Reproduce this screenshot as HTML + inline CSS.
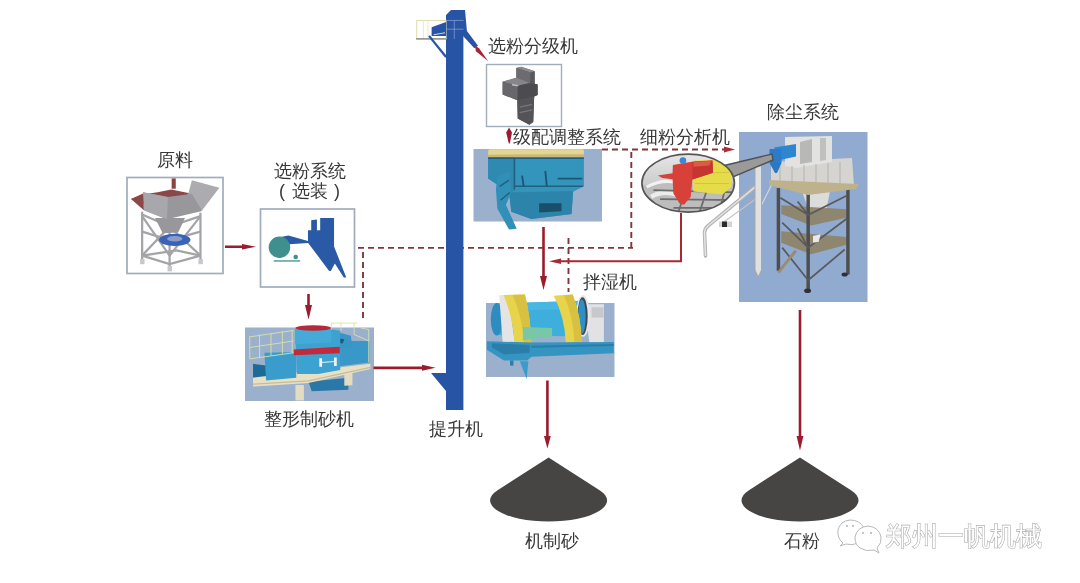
<!DOCTYPE html>
<html><head><meta charset="utf-8">
<style>
html,body{margin:0;padding:0;background:#fff;width:1080px;height:583px;overflow:hidden}
svg{display:block;will-change:transform}
text{font-family:"Liberation Sans",sans-serif;fill:#383838;font-size:18px}
</style></head><body>
<svg width="1080" height="583" viewBox="0 0 1080 583">
<defs>
<marker id="ah" markerWidth="8" markerHeight="6" refX="7" refY="3" orient="auto" markerUnits="userSpaceOnUse">
<path d="M0,0 L8,3 L0,6 z" fill="#9b1c2c"/></marker>
</defs>

<!-- dashed -->
<g fill="none" stroke="#80363f" stroke-width="1.9" stroke-dasharray="6,4">
<path d="M358,247.9 L633,247.9"/>
<path d="M602,149.5 L726,149.5"/>
<path d="M631.3,152 L631.3,248"/>
<path d="M363,252 L363,319"/>
<path d="M568.5,238 L568.5,292"/>
</g>
<!-- boxes -->
<rect x="127" y="177.5" width="96" height="96" fill="#fff" stroke="#a2acbc" stroke-width="1.7"/>
<rect x="260.5" y="209" width="94" height="78" fill="#fff" stroke="#a2acbc" stroke-width="1.7"/>
<rect x="486.5" y="64.5" width="75" height="62" fill="#fff" stroke="#a2acbc" stroke-width="1.4"/>
<rect x="473.5" y="149" width="128.5" height="72.5" fill="#9ab0cc"/>
<rect x="739" y="132" width="128.5" height="170" fill="#90aad0"/>
<rect x="245" y="327.5" width="129" height="73.5" fill="#9ab0cc"/>
<rect x="486" y="303" width="128.5" height="74" fill="#9ab0cc"/>


<!-- hopper (原料) -->
<g transform="translate(125,175) scale(0.1715)">
<g stroke="#a4a4a8" stroke-width="13" fill="none">
<path d="M100,215 L100,500 M260,260 L260,540 M440,220 L440,500"/>
<path d="M100,470 L260,520 L440,470 L300,440 z"/>
<path d="M100,230 L260,300 L440,240 M100,330 L260,380 L440,330"/>
<path d="M100,240 L260,470 M260,300 L100,470 M260,300 L440,470 M440,240 L260,470"/>
</g>
<g fill="#c8c8cc"><rect x="88" y="490" width="26" height="30"/><rect x="248" y="530" width="26" height="32"/><rect x="428" y="490" width="26" height="30"/></g>
<ellipse cx="290" cy="378" rx="92" ry="36" fill="#3a62b8"/>
<ellipse cx="290" cy="372" rx="45" ry="16" fill="#8a9cc8"/>
<path d="M175,250 L350,250 L310,335 L220,340 z" fill="#98989c"/>
<path d="M35,140 L110,112 L190,100 L270,85 L390,110 L300,130 L240,160 L100,168 z" fill="#8a4848"/>
<path d="M390,30 L550,75 L450,205 L355,160 z" fill="#acacb0"/>
<path d="M105,100 L250,128 L390,110 L450,210 L245,258 L110,205 z" fill="#98989c"/>
<path d="M105,100 L250,128 L245,258 L110,205 z" fill="#a8a8ac"/>
<path d="M35,140 L105,108 L110,205 z" fill="#8a4848"/>
<rect x="272" y="20" width="24" height="60" fill="#8a4444"/>
</g>


<!-- 选粉系统 icon -->
<g transform="translate(255,200) scale(0.16297)">

<circle cx="250" cy="350" r="14" fill="#3f8f8f"/>
<rect x="115" y="370" width="162" height="8" fill="#3f8f8f"/>
<path d="M150,228 L205,218 L325,252 L325,264 L212,272 L205,290 z" fill="#2a5aa5"/>
<circle cx="150" cy="290" r="66" fill="#3f8f8f"/>
<path d="M325,185 L345,185 L345,125 L380,120 L380,185 L400,185 L400,110 L485,110 L485,285 L560,475 L545,475 L490,390 L465,435 L455,435 L325,262 z" fill="#2a5aa5"/>
</g>


<!-- 选粉分级机 icon -->
<g transform="translate(480,55) scale(0.13719)">
<path d="M265,95 L300,85 L400,118 L400,210 L420,215 L420,292 L395,302 L388,488 L360,508 L275,462 L272,330 L165,288 L165,195 L265,165 z" fill="#5a5a5e"/>
<path d="M265,95 L300,85 L400,118 L365,128 z" fill="#8a8a8e"/>
<path d="M265,95 L365,128 L365,210 L265,170 z" fill="#6c6c70"/>
<path d="M165,195 L265,165 L365,205 L275,225 z" fill="#86868a"/>
<path d="M165,195 L275,225 L272,330 L165,288 z" fill="#68686c"/>
<path d="M235,210 L290,220 L285,232 L232,222 z" fill="#b8b8bc"/>
<path d="M275,225 L365,205 L420,215 L420,292 L395,302 L275,330 z" fill="#4c4c50"/>
<path d="M272,330 L395,302 L388,488 L360,508 L275,462 z" fill="#545458"/>
<path d="M290,380 L380,360 M290,420 L380,400" stroke="#77777b" stroke-width="8"/>
</g>


<!-- 级配调整系统 icon -->
<g transform="translate(465,140) scale(0.15442)">
<path d="M150,112 L770,112 L770,300 L700,335 L690,480 L430,512 L300,465 L285,340 L150,250 z" fill="#3394bc"/>
<path d="M150,112 L320,112 L320,330 L285,340 L150,250 z" fill="#2f8ab2"/>
<path d="M285,340 L700,330 L690,480 L430,512 L300,465 z" fill="#2c84aa"/>
<path d="M320,120 L320,320 M320,300 L765,300 M150,118 L770,118" stroke="#20607e" stroke-width="10" fill="none"/>
<path d="M370,230 L380,300 M520,200 L530,300 M600,250 L760,250" stroke="#1d5674" stroke-width="12" fill="none"/>
<path d="M480,410 L625,410 L625,462 L480,470 z" fill="#1a4f6a"/>
<path d="M210,240 L290,200 L300,340 L265,420 L335,575 L285,580 L210,445 L200,320 z" fill="#3190b8"/>
<path d="M225,300 L285,260 M230,390 L290,340" stroke="#235f80" stroke-width="10"/>
<path d="M150,70 Q150,60 165,60 L760,60 Q770,60 770,70 L770,105 L150,108 z" fill="#e4d592"/>
<path d="M150,95 L770,92 L770,108 L150,110 z" fill="#c8b878"/>
</g>


<!-- 整形制砂机 icon -->
<g transform="translate(240,310) scale(0.163)">
<path d="M80,330 L160,340 L160,425 L80,415 z" fill="#1e6a96"/>
<path d="M420,440 L665,415 L665,490 L440,498 z" fill="#2a78a8"/>
<path d="M340,460 L392,460 L392,555 L340,555 z" fill="#e4dcc0"/>
<path d="M640,385 L690,380 L690,462 L640,465 z" fill="#e4dcc0"/>
<path d="M80,415 L800,330 L800,362 L420,448 L80,470 z" fill="#e8e0c4"/>
<path d="M80,455 L420,435 L800,352" stroke="#c8bc98" stroke-width="8" fill="none"/>
<path d="M150,262 L345,258 L345,415 L160,432 z" fill="#3a9ccc"/>
<path d="M610,190 L795,190 L795,322 L610,345 z" fill="#3a98c8"/>
<path d="M540,120 L680,158 L690,235 L560,225 z" fill="#3a94c4"/>
<path d="M572,168 L640,180 L630,205 L580,196 z" fill="#1e5a80"/>
<path d="M338,118 Q450,92 560,118 L615,128 L615,368 L480,392 L350,392 z" fill="#3ca2d2"/>
<path d="M338,118 Q450,92 560,118 L560,200 L338,210 z" fill="#46aad8"/>
<ellipse cx="450" cy="110" rx="110" ry="17" fill="#b82838"/>
<path d="M330,242 L612,225 L612,265 L330,278 z" fill="#c02a3c"/>
<path d="M490,300 L500,300 L500,345 L490,345 z M580,295 L590,295 L590,340 L580,340 z M495,322 L585,316" stroke="#f0f0f0" stroke-width="7" fill="#f0f0f0"/>
<g stroke="#d8e4a8" stroke-width="6" fill="none" opacity="0.9">
<path d="M60,160 L60,300 M120,150 L120,290 M190,140 L190,280 M260,130 L260,270 M320,125 L320,265"/>
<path d="M60,165 L330,125 M60,230 L330,190 M60,300 L330,262"/>
<path d="M560,80 L720,80 M560,75 L560,120 M620,75 L620,130 M700,78 L700,150 M740,110 L790,120 L790,320 M700,150 L790,190"/>
</g>
</g>


<!-- 拌湿机 icon -->
<g transform="translate(480,285) scale(0.17153)">
<path d="M610,112 L722,112 L722,352 L640,352 z" fill="#e2e2e4"/>
<path d="M650,130 L720,130 L720,190 L650,190 z" fill="#c8c8cc"/>
<path d="M95,108 L600,92 L600,300 L95,292 z" fill="#3eaedc"/>
<path d="M95,108 L600,92 L600,140 L95,150 z" fill="#4ab6e2"/>
<ellipse cx="98" cy="200" rx="35" ry="95" fill="#2e8cc0"/>
<ellipse cx="600" cy="180" rx="40" ry="122" fill="#e8e8ea"/><ellipse cx="598" cy="182" rx="30" ry="110" fill="#404850"/>
<ellipse cx="594" cy="184" rx="22" ry="100" fill="#2e90c4"/>
<path d="M112,60 L165,58 L210,385 L135,375 z" fill="#e4e4e6"/>
<path d="M138,58 L262,55 Q300,200 300,392 L205,392 Q200,210 138,58 z" fill="#e8d44a"/>
<path d="M190,58 L262,55 Q300,200 300,392 L260,392 Q255,200 190,58 z" fill="#d8c040"/>
<path d="M430,62 L540,55 Q590,180 592,332 L500,335 Q495,190 430,62 z" fill="#e8d44a"/>
<path d="M490,60 L540,55 Q590,180 592,332 L550,333 Q545,190 490,60 z" fill="#d8c040"/>
<path d="M250,245 L420,250 L420,300 L250,322 z" fill="#78c8a8"/>
<path d="M40,328 L300,335 L780,332 L780,398 L300,418 L275,440 L140,440 L40,378 z" fill="#3494c2"/>
<path d="M70,340 L290,350 L290,395 L140,405 L70,365 z" fill="#2a7ea8"/>
<path d="M300,360 L780,350" stroke="#2a7ea8" stroke-width="12"/>
<path d="M232,445 L282,445 L272,548 z" fill="#3a9cc8"/>
<rect x="175" y="440" width="20" height="30" fill="#2a7ea8"/>
</g>

<!-- elevator -->
<path d="M446,15 L451,10 L465,10 L467,32 L463.4,36 L463.4,410 L446,410 L446,391 L431,373 L446,373 z" fill="#2854a6"/>
<g transform="translate(410,5) scale(0.10299)">
<rect x="65" y="150" width="285" height="180" fill="none" stroke="#e0dcb0" stroke-width="10"/>
<path d="M130,150 L130,330 M175,150 L175,330" stroke="#e8e4c0" stroke-width="8"/>
<rect x="60" y="322" width="290" height="14" fill="#8a8a80"/>
<path d="M185,300 L350,505" stroke="#2854a6" stroke-width="22"/>
<path d="M210,300 L210,215 L350,165 L350,300 z" fill="#2854a6"/>
<path d="M230,290 L340,270" stroke="#c8d4ea" stroke-width="10"/>
<path d="M350,150 L520,150 M430,150 L430,330 M350,235 L520,235" stroke="#9ab0d8" stroke-width="6"/>
<path d="M515,250 L555,255 L660,395 L625,420 L515,300 z" fill="#2854a6"/>
<path d="M630,390 L670,420 L760,545 L640,450 z" fill="#b02030"/>
</g>


<!-- 除尘系统 tower -->
<g>
<path d="M705.5,256 L704.5,232 Q705,228 709,225 L755,187" stroke="#b4b4b4" stroke-width="3.6" fill="none" stroke-linecap="round"/>
<path d="M705.5,256 L704.5,232 Q705,228 709,225 L755,187" stroke="#e4e4e4" stroke-width="1.5" fill="none"/>
<path d="M721,224 L757,198" stroke="#c4c4c4" stroke-width="1.2"/>
<path d="M757,214 L777,174" stroke="#d8d8d8" stroke-width="1.2"/>
<rect x="719" y="221.5" width="13" height="5.5" fill="#d4d4d4"/><rect x="722" y="221.5" width="5" height="5.5" fill="#2a2a2a"/>
<path d="M755,166 L761.5,166 L761.5,270 L758.2,277 L755,270 z" fill="#e0e0e0" stroke="#a8a8a8" stroke-width="1"/>
<g transform="translate(740,190) scale(0.19203)">
<path d="M320,0 L470,0 L450,100 L360,110 z" fill="#dcdcda"/>
<path d="M215,80 L555,100 L555,145 L370,185 L215,125 z" fill="#8e8264" opacity="0.9"/>
<path d="M215,215 L555,245 L555,285 L370,335 L215,275 z" fill="#8e8264" opacity="0.9"/>
<path d="M200,-10 L200,420 M355,0 L355,525 M562,-10 L562,440" stroke="#4e4e50" stroke-width="18"/>
<path d="M210,40 L355,130 L555,30 M220,170 L355,300 L555,150 M220,300 L355,470 L545,310 M355,130 L300,60 M355,300 L300,200 M205,420 L290,320" stroke="#5a5a5c" stroke-width="9" fill="none"/>
<path d="M200,430 L290,315" stroke="#9a8e6a" stroke-width="14"/>
<ellipse cx="352" cy="525" rx="18" ry="12" fill="#303032"/><ellipse cx="545" cy="440" rx="16" ry="11" fill="#303032"/>
<path d="M380,240 L420,230 L410,270 L380,275 z" fill="#e8e8e8"/>
</g>
<path d="M771,162 L852,158 L854,186 L800,192 L771,184 z" fill="#d6d4d0"/>
<path d="M785,137 L832,136 L832,162 L796,168 L785,166 z" fill="#e2e2e0"/>
<path d="M800,142 L812,139 L812,162 L800,164 z" fill="#b8b8b6"/>
<path d="M820,138 L826,138 L826,160 L820,161 z" fill="#c0c0be"/>
<path d="M780,166 L780,186 M792,166 L792,188 M804,165 L804,190 M816,164 L816,189 M828,163 L828,188 M840,162 L840,187" stroke="#b4b2ac" stroke-width="1"/>
<path d="M769,180 L859,184 L856,189 L808,195 L769,185 z" fill="#bdb28c"/>
<path d="M774,147.5 L796,144 L796,156.5 L780,160 z" fill="#2e86d0"/>
<path d="M769.5,149 L781.5,149 L781.5,163 L769.5,163 z" fill="#2a7cc8"/>
<path d="M769.5,163 L781.5,163 L777,173 L775,173 z" fill="#2a78c0"/>

</g>

<!-- ellipse -->
<path d="M722,166 L772,154 L773,160 L733,177 z" fill="#9a9a9a" stroke="#505050" stroke-width="1.4"/>
<g transform="translate(640,150) scale(0.11148)">
<defs>
<clipPath id="ec"><ellipse cx="432" cy="297" rx="415" ry="260"/></clipPath>
<linearGradient id="eg" x1="0" y1="0" x2="0" y2="1"><stop offset="0" stop-color="#e6e6e6"/><stop offset="0.45" stop-color="#d0d0d0"/><stop offset="1" stop-color="#b4b4b4"/></linearGradient>
</defs>
<ellipse cx="432" cy="297" rx="415" ry="260" fill="url(#eg)"/>
<g clip-path="url(#ec)">
<path d="M0,330 Q200,250 900,300 L900,600 L0,600 z" fill="#bdbdbd"/>
<path d="M60,330 Q200,260 320,290" stroke="#f2f2f2" stroke-width="28" fill="none"/>
<path d="M100,420 Q200,360 330,400" stroke="#ececec" stroke-width="40" fill="none"/>
<path d="M120,360 L860,380 M180,440 L860,450 M300,520 L860,520 M420,330 L330,600 M600,360 L520,600 M760,360 L700,600" stroke="#6c6c6c" stroke-width="16" fill="none"/>
<path d="M490,95 L700,88 L820,200 L820,330 L740,400 L480,372 L470,265 z" fill="#e6dc4a"/>
<path d="M490,210 L800,200 M490,300 L800,300" stroke="#d2c63c" stroke-width="10"/>
</g>
<path d="M295,135 L490,100 L650,95 L655,205 L470,265 L455,420 L395,490 L355,480 L300,390 L292,262 L200,252 L160,228 L292,208 z" fill="#d8403a"/>
<path d="M470,110 L650,95 L655,205 L470,265 z" fill="#c63630"/>
<path d="M480,105 L640,98 L620,140 L480,150 z" fill="#e05848"/>
<circle cx="385" cy="95" r="30" fill="#3a88d0"/>
<ellipse cx="432" cy="297" rx="415" ry="260" fill="none" stroke="#555" stroke-width="15"/>
</g>
<!-- cones -->
<path d="M548.6,457.5 L497.6,490.2 A58.5,21 0 1 0 599.6,490.2 Z" fill="#464543"/>
<path d="M800,457.5 L749,490.2 A58.5,21 0 1 0 851,490.2 Z" fill="#464543"/>
<!-- arrows -->

<path d="M724,146.5 L735,149.5 L724,152.5 z" fill="#a83038"/>
<g fill="#9b1c2c">
<path d="M225,245.5 L242,245.5 L242,244 L256,246.7 L242,249.5 L242,248 L225,248 z"/>
<path d="M307.2,294 L309.8,294 L309.8,305 L312,305 L308.5,319.5 L305,305 L307.2,305 z"/>
<path d="M373.5,366.5 L422,366.5 L422,364.8 L435.5,367.8 L422,370.8 L422,369.2 L373.5,369.2 z"/>
<path d="M542.2,227 L544.8,227 L544.8,276 L547,276 L543.5,290 L540,276 L542.2,276 z"/>
<path d="M509,127.5 L512,132.5 L509.8,143.5 L508.8,143.5 L506.2,132.5 z"/>
<path d="M546.1,380.5 L548.7,380.5 L548.7,436 L550.8,436 L547.4,448.5 L544,436 L546.1,436 z"/>
<path d="M798.7,310 L801.3,310 L801.3,436 L803.4,436 L800,450.5 L796.6,436 L798.7,436 z"/>
<path d="M680,213 L682,213 L682,262.3 L561,262.3 L561,264 L549,261.3 L561,258.6 L561,260.3 L680,260.3 z" fill="#a52a35"/>
</g>

<!-- text -->
<text x="157" y="165.5">原料</text>
<text x="274" y="176.5">选粉系统</text>
<text x="279" y="197" style="font-weight:lighter">(</text><text x="292" y="197">选装</text><text x="334" y="197">)</text>
<text x="488" y="51.5">选粉分级机</text>
<text x="513" y="143">级配调整系统</text>
<text x="640" y="143">细粉分析机</text>
<text x="767" y="118">除尘系统</text>
<text x="264" y="425">整形制砂机</text>
<text x="429" y="435">提升机</text>
<text x="583" y="287.7">拌湿机</text>
<text x="524.5" y="547">机制砂</text>
<text x="784" y="547">石粉</text>

<!-- watermark -->
<g fill="#fff" stroke="#b8b8b8" stroke-width="1">
<path d="M843,543 L840,546 L846,544 Q852,546 858,543 Q866,537 864,528 Q860,520 850,520 Q840,521 838,530 Q837,538 843,543 z"/>
<path d="M860,548 Q866,552 874,550 L879,553 L877,548 Q882,543 881,537 Q879,527 868,526 Q857,527 855,537 Q855,545 860,548 z"/>
</g>
<g fill="#a8a8a8"><circle cx="847" cy="526" r="0.9"/><circle cx="853" cy="526" r="0.9"/><circle cx="863" cy="533" r="0.9"/><circle cx="871" cy="533" r="0.9"/></g>
<text x="885.5" y="545" style="font-size:26px;fill:#fff;stroke:#a8a8a8;stroke-width:1.1;paint-order:stroke">郑州一帆机械</text>
</svg>
</body></html>
